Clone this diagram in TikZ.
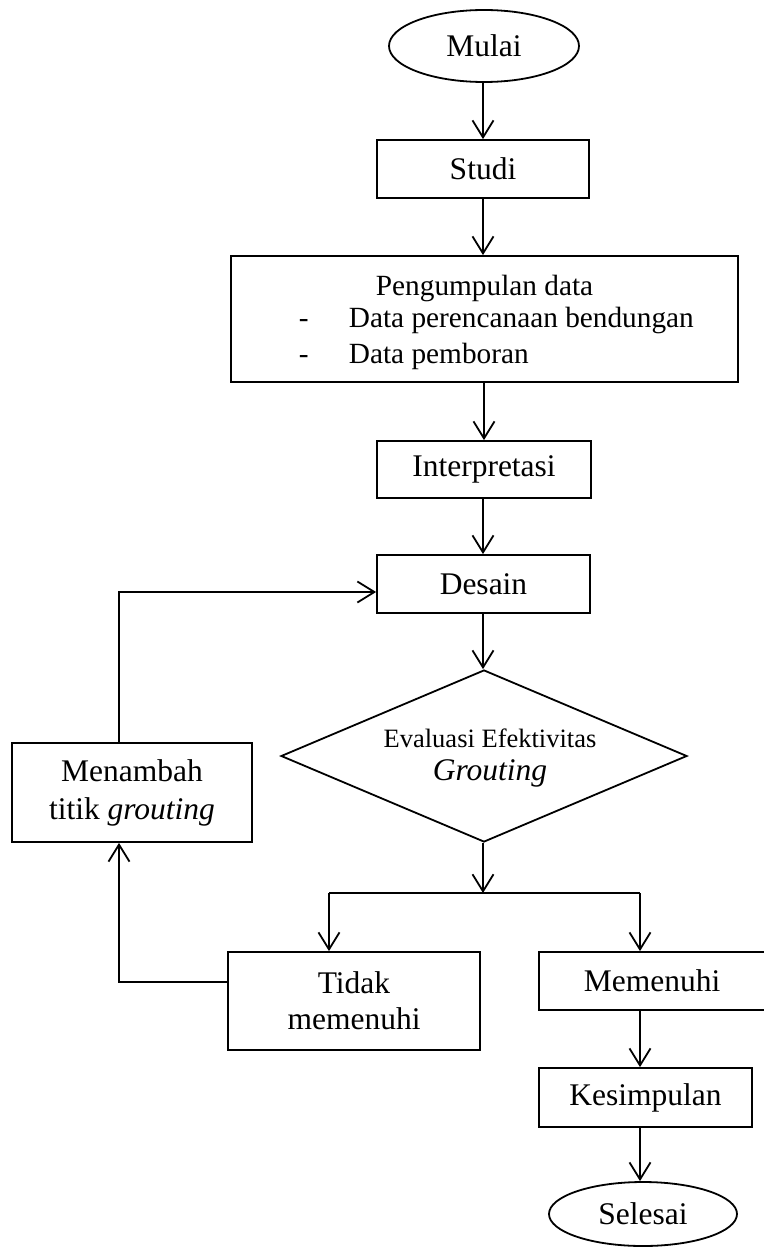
\documentclass[tikz,border=0pt]{standalone}
\usepackage{fontspec}
\setmainfont{Liberation Serif}
\usetikzlibrary{arrows.meta,shapes.geometric}
\begin{document}
\begin{tikzpicture}[x=1pt,y=-1pt,
  line width=1.8pt,
  arr/.style={-{Straight Barb[length=17pt,width=21pt]}},
  box/.style={draw, rectangle, inner sep=0pt, align=center, font=\fontsize{31.5}{36}\selectfont},
  term/.style={draw, ellipse, inner sep=0pt, font=\fontsize{31.5}{36}\selectfont},
  txt/.style={inner sep=0pt, anchor=base, font=\fontsize{29.3}{35}\selectfont}
]
\useasboundingbox (0,0) rectangle (763,1247);

\node[term, minimum width=190pt, minimum height=72pt] (mulai) at (484,46) {Mulai};
\node[box, minimum width=212pt, minimum height=58pt] (studi) at (483,169) {Studi};
\node[box, minimum width=507pt, minimum height=126pt] (kumpul) at (484.5,319) {};
\node[txt, anchor=base west] (k1) at (375,295) {Pengumpulan data};
\node[txt, anchor=base west] (k2d) at (298,327) {-};
\node[txt, anchor=base west] (k2) at (348,327) {Data perencanaan bendungan};
\node[txt, anchor=base west] (k3d) at (298,363) {-};
\node[txt, anchor=base west] (k3) at (348,363) {Data pemboran};
\node[box, minimum width=214pt, minimum height=57pt] (interp) at (484,469.5) {Interpretasi};
\node[box, minimum width=213pt, minimum height=58pt] (desain) at (483.5,584) {Desain};
\node[draw, diamond, minimum width=406pt, minimum height=172pt, inner sep=0pt] (eval) at (484,756) {};
\node[txt, font=\fontsize{26.5}{30}\selectfont] (e1) at (490,747) {Evaluasi Efektivitas};
\node[txt, font=\fontsize{31.5}{36}\selectfont\itshape] (e2) at (490,780) {Grouting};
\node[box, minimum width=240pt, minimum height=99pt] (tambah) at (132,792.5) {Menambah\\[2pt]titik \textit{grouting}};
\node[box, minimum width=252pt, minimum height=98pt] (tidak) at (354,1001) {Tidak\\memenuhi};
\node[box, minimum width=226pt, minimum height=58pt] (penuhi) at (652,981) {Memenuhi};
\node[box, minimum width=213pt, minimum height=59pt] (simpul) at (645.5,1097.5) {Kesimpulan};
\node[term, minimum width=188pt, minimum height=64pt] (selesai) at (643,1214) {Selesai};

\coordinate (split) at (483,893);
\coordinate (lsplit) at (329,893);
\coordinate (rsplit) at (640,893);
\coordinate (fb) at (119,0);

\draw[arr] (mulai.south -| studi.north) -- (studi.north);
\draw[arr] (studi.south) -- (studi.south |- kumpul.north);
\draw[arr] (interp.north |- kumpul.south) -- (interp.north);
\draw[arr] (interp.south -| split) -- (desain.north -| split);
\draw[arr] (desain.south -| split) -- (eval.north -| split);
\draw[arr] (eval.south -| split) -- (split);
\draw (lsplit) -- (rsplit);
\draw[arr] (lsplit) -- (lsplit |- tidak.north);
\draw[arr] (rsplit) -- (rsplit |- penuhi.north);
\draw[arr] (rsplit |- penuhi.south) -- (rsplit |- simpul.north);
\draw[arr] (rsplit |- simpul.south) -- (rsplit |- selesai.north);
\draw[arr] ([yshift=19pt]tidak.west) -| (fb |- tambah.south);
\draw[arr] (fb |- tambah.north) |- ([yshift=-8pt]desain.west);
\end{tikzpicture}
\end{document}
